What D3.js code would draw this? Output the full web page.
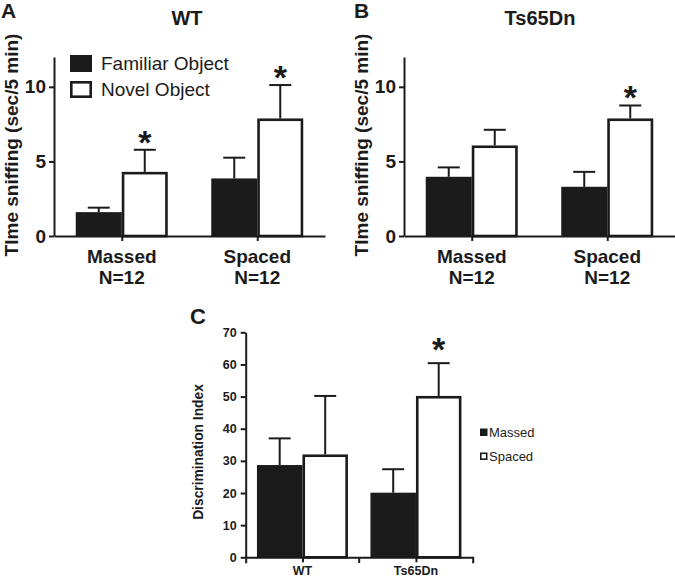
<!DOCTYPE html>
<html><head><meta charset="utf-8">
<script src="https://cdn.jsdelivr.net/npm/d3@7"></script>
<style>body{margin:0;background:#fff}svg{display:block}text{font-family:"Liberation Sans",Arial,sans-serif}</style>
</head><body><svg id="c" width="675" height="579"></svg>
<script>
// ---- data ----
const groupsAB = ["Massed", "Spaced"];
const groupSubLabels = ["N=12", "N=12"];
const seriesAB = ["Familiar Object", "Novel Object"];
const wtMeans = [[1.6, 4.3], [3.86, 7.88]];
const wtErrTop = [[1.9, 5.78], [5.25, 10.12]];
const wtStars = [[false, true], [false, true]];
const tsMeans = [[3.97, 6.07], [3.3, 7.88]];
const tsErrTop = [[4.6, 7.12], [4.3, 8.75]];
const tsStars = [[false, false], [false, true]];
const ticksAB = [0, 5, 10];

const groupsC = ["WT", "Ts65Dn"];
const seriesC = ["Massed", "Spaced"];
const diMeans = [[28.7, 32.0], [20.1, 50.2]];
const diErrTop = [[37.0, 50.2], [27.4, 60.4]];
const diStars = [[false, false], [false, true]];
const ticksC = [0, 10, 20, 30, 40, 50, 60, 70];

const svg = d3.select("#c");
const ink = "#1b1b1b";

function panel(opt) {
  const g = svg.append("g");
  const y = d3.scaleLinear().domain(opt.yDomain).range([opt.y0, opt.y1]);
  const x = d3.scalePoint().domain(opt.groups).range([opt.x0, opt.x1]).padding(opt.pad);
  const xs = d3.scaleBand().domain(opt.series).range([-opt.half, opt.half]);
  opt.groups.forEach((gr, gi) => {
    opt.series.forEach((s, si) => {
      const bx = x(gr) + xs(s), bw = xs.bandwidth();
      const top = y(opt.means[gi][si]);
      const et = y(opt.err[gi][si]);
      const cx = bx + bw / 2;
      g.append("line").attr("x1", cx).attr("x2", cx).attr("y1", top).attr("y2", et)
        .attr("stroke", ink).attr("stroke-width", opt.ew);
      g.append("line").attr("x1", cx - opt.cap).attr("x2", cx + opt.cap).attr("y1", et).attr("y2", et)
        .attr("stroke", ink).attr("stroke-width", opt.ew);
      if (si === 0) {
        g.append("rect").attr("x", bx).attr("y", top).attr("width", bw).attr("height", y(0) - top)
          .attr("fill", ink);
      } else {
        const sw = opt.bw;
        g.append("rect").attr("x", bx + sw / 2).attr("y", top + sw / 2)
          .attr("width", bw - sw).attr("height", y(0) - top - sw / 2)
          .attr("fill", "#fff").attr("stroke", ink).attr("stroke-width", sw);
      }
      if (opt.stars[gi][si]) {
        g.append("text").attr("x", cx).attr("y", et - opt.starOff).attr("text-anchor", "middle")
          .attr("font-size", opt.starSize).attr("font-weight", "bold").attr("fill", ink).text("*");
      }
    });
  });
  const ya = d3.axisLeft(y).tickValues(opt.ticks).tickSize(opt.tick).tickPadding(opt.tpad).tickSizeOuter(0);
  const yg = g.append("g").attr("transform", `translate(${opt.x0},0)`).call(ya);
  yg.select(".domain").attr("stroke", ink).attr("stroke-width", opt.aw);
  yg.selectAll(".tick line").attr("stroke", ink).attr("stroke-width", opt.aw);
  yg.selectAll("text").attr("font-size", opt.tfs).attr("font-weight", "bold").attr("fill", ink)
    .attr("font-family", "Liberation Sans, Arial, sans-serif");
  const xa = d3.axisBottom(x).tickSize(opt.tick).tickSizeOuter(opt.xOuter).tickFormat("");
  const xg = g.append("g").attr("transform", `translate(0,${opt.y0})`).call(xa);
  xg.select(".domain").attr("stroke", ink).attr("stroke-width", opt.aw).attr("fill", "none");
  xg.selectAll(".tick line").attr("stroke", ink).attr("stroke-width", opt.aw);
  return { g, x, y };
}

const optAB = {
  groups: groupsAB, series: seriesAB, yDomain: [0, 12], y0: 236, y1: 57,
  pad: 0.5, half: 46, ticks: ticksAB, tick: 5, tpad: 3, tfs: 19, aw: 2, ew: 2, bw: 2.6,
  cap: 11, starSize: 34, starOff: -4, xOuter: 0
};

function abPanel(x0, x1, means, err, stars, title, letter, letterX, titleX, labelX) {
  const p = panel(Object.assign({}, optAB, { x0, x1, means, err, stars }));
  groupsAB.forEach((gr, i) => {
    p.g.append("text").attr("x", p.x(gr)).attr("y", 263).attr("text-anchor", "middle")
      .attr("font-size", 19).attr("font-weight", "bold").attr("fill", ink).text(gr);
    p.g.append("text").attr("x", p.x(gr)).attr("y", 284).attr("text-anchor", "middle")
      .attr("font-size", 19).attr("font-weight", "bold").attr("fill", ink).text(groupSubLabels[i]);
  });
  p.g.append("text").attr("x", titleX).attr("y", 25).attr("text-anchor", "middle")
    .attr("font-size", 20).attr("font-weight", "bold").attr("fill", ink).text(title);
  p.g.append("text").attr("x", letterX).attr("y", 18).attr("font-size", 21).attr("font-weight", "bold")
    .attr("fill", ink).text(letter);
  p.g.append("text").attr("transform", `translate(${labelX},145) rotate(-90)`).attr("text-anchor", "middle")
    .attr("font-size", 19).attr("font-weight", "bold").attr("fill", ink).text("TIme sniffing (sec/5 min)");
  return p;
}

const pA = abPanel(54, 325, wtMeans, wtErrTop, wtStars, "WT", "A", 1, 187, 18);
abPanel(404, 675, tsMeans, tsErrTop, tsStars, "Ts65Dn", "B", 354, 540, 368);

seriesAB.forEach((s, i) => {
  const ly = 55 + i * 26;
  if (i === 0) pA.g.append("rect").attr("x", 70).attr("y", ly).attr("width", 22).attr("height", 17).attr("fill", ink);
  else pA.g.append("rect").attr("x", 71.3).attr("y", ly + 1.3).attr("width", 19.4).attr("height", 14.4)
    .attr("fill", "#fff").attr("stroke", ink).attr("stroke-width", 2.6);
  pA.g.append("text").attr("x", 101).attr("y", ly + 15).attr("font-size", 19).attr("fill", ink).text(s);
});

const pC = panel({
  groups: groupsC, series: seriesC, yDomain: [0, 70], y0: 557.3, y1: 332.3,
  x0: 245.7, x1: 472.7, pad: 0.5, half: 45.5, ticks: ticksC, tick: 5, tpad: 4, tfs: 12.5,
  aw: 2, ew: 2, bw: 2.6, cap: 11, starSize: 34, starOff: 2, xOuter: 6,
  means: diMeans, err: diErrTop, stars: diStars
});
const mid = (pC.x(groupsC[0]) + pC.x(groupsC[1])) / 2;
pC.g.append("line").attr("x1", mid).attr("x2", mid)
  .attr("y1", 557.3).attr("y2", 563).attr("stroke", ink).attr("stroke-width", 2);
groupsC.forEach(gr => {
  pC.g.append("text").attr("x", pC.x(gr)).attr("y", 575).attr("text-anchor", "middle")
    .attr("font-size", 12.5).attr("font-weight", "bold").attr("fill", ink).text(gr);
});
pC.g.append("text").attr("transform", "translate(203,452) rotate(-90)").attr("text-anchor", "middle")
  .attr("font-size", 13.8).attr("font-weight", "bold").attr("fill", ink).text("Discrimination Index");
pC.g.append("text").attr("x", 190).attr("y", 324).attr("font-size", 22).attr("font-weight", "bold")
  .attr("fill", ink).text("C");
seriesC.forEach((s, i) => {
  const ly = 428.5 + i * 24;
  if (i === 0) pC.g.append("rect").attr("x", 480).attr("y", ly).attr("width", 7.5).attr("height", 7.5).attr("fill", ink);
  else pC.g.append("rect").attr("x", 480.8).attr("y", ly + 0.8).attr("width", 5.9).attr("height", 5.9)
    .attr("fill", "#fff").attr("stroke", ink).attr("stroke-width", 1.6);
  pC.g.append("text").attr("x", 489).attr("y", ly + 8.5).attr("font-size", 13).attr("fill", ink).text(s);
});
</script></body></html>
